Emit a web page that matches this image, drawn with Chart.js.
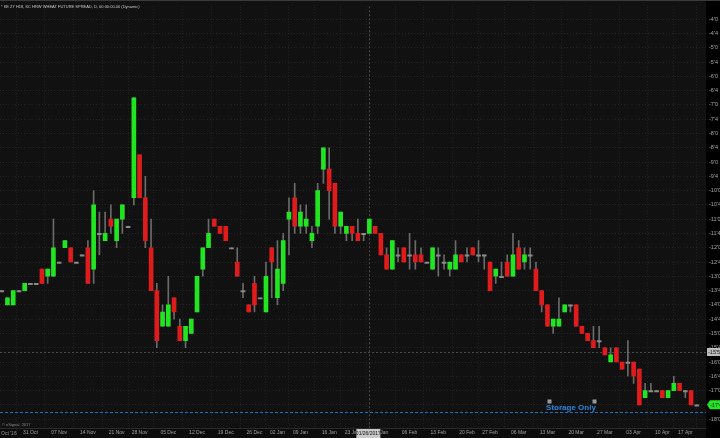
<!DOCTYPE html>
<html><head><meta charset="utf-8">
<script src="https://cdn.jsdelivr.net/npm/chart.js@4/dist/chart.umd.min.js"></script>
<style>html,body{margin:0;padding:0;background:#111;overflow:hidden}canvas{display:block}</style>
</head><body>
<canvas id="c" width="720" height="438"></canvas>
<script>
const title = "* KE Z7 H18, KC HRW WHEAT FUTURE SPREAD, D, 00:00:00.00 (Dynamic)";
const dates = ["24 Oct","25 Oct","26 Oct","27 Oct","28 Oct","31 Oct","01 Nov","02 Nov","03 Nov","04 Nov","07 Nov","08 Nov","09 Nov","10 Nov","11 Nov","14 Nov","15 Nov","16 Nov","17 Nov","18 Nov","21 Nov","22 Nov","23 Nov","25 Nov","28 Nov","29 Nov","30 Nov","01 Dec","02 Dec","05 Dec","06 Dec","07 Dec","08 Dec","09 Dec","12 Dec","13 Dec","14 Dec","15 Dec","16 Dec","19 Dec","20 Dec","21 Dec","22 Dec","23 Dec","27 Dec","28 Dec","29 Dec","30 Dec","03 Jan","04 Jan","05 Jan","06 Jan","09 Jan","10 Jan","11 Jan","12 Jan","13 Jan","17 Jan","18 Jan","19 Jan","20 Jan","23 Jan","24 Jan","25 Jan","26 Jan","27 Jan","30 Jan","31 Jan","01 Feb","02 Feb","03 Feb","06 Feb","07 Feb","08 Feb","09 Feb","10 Feb","13 Feb","14 Feb","15 Feb","16 Feb","17 Feb","21 Feb","22 Feb","23 Feb","24 Feb","27 Feb","28 Feb","01 Mar","02 Mar","03 Mar","06 Mar","07 Mar","08 Mar","09 Mar","10 Mar","13 Mar","14 Mar","15 Mar","16 Mar","17 Mar","20 Mar","21 Mar","22 Mar","23 Mar","24 Mar","27 Mar","28 Mar","29 Mar","30 Mar","31 Mar","03 Apr","04 Apr","05 Apr","06 Apr","07 Apr","10 Apr","11 Apr","12 Apr","13 Apr","17 Apr","18 Apr","19 Apr"];
const opens = [-13.5,-14,-14,-13.5,-13.5,-13.25,-13.25,-12.75,-13,-13,-12.5,-12,-12,-12.5,-12.25,-12,-12.75,-11.5,-11.75,-11,-11.75,-11,-11.25,-10.25,-8.75,-10.25,-12,-13.5,-14.75,-14.75,-13.75,-14.75,-15.25,-15,-14.25,-12.75,-12,-11,-11.25,-11.25,-12,-12.5,-13.5,-14,-13.25,-13.75,-14.25,-12,-13.75,-13.25,-11,-10.25,-11.25,-11.25,-11.75,-11.25,-9.25,-9.25,-9.75,-11.25,-11.5,-11.25,-11.5,-11.5,-11.5,-11.25,-11.5,-12.25,-12.75,-12.25,-12,-12.25,-12.25,-12.25,-12.5,-12.75,-12.25,-12.5,-12.75,-12.75,-12.25,-12.25,-12,-12.25,-12.25,-12.5,-13,-13,-12.5,-13,-12,-12.5,-12.25,-12.75,-13.5,-14,-14.75,-14.75,-14.25,-14,-14,-14.75,-15,-15.25,-15.25,-15.5,-16,-15.5,-16,-16,-16,-16.25,-17.25,-17,-17,-17,-17.25,-17,-16.75,-17,-17,-17.5];
const highs = [-13.5,-13.75,-13.5,-13.5,-13.25,-13.25,-13.25,-12.75,-12.75,-11,-12.5,-11.75,-12,-12.5,-12.25,-11.75,-10,-10.75,-10.75,-10.5,-11,-10.5,-11.25,-6.75,-8.75,-9.5,-11,-13.25,-14,-13,-13.75,-14.5,-14.75,-14.5,-13,-12,-11,-11,-11.25,-11.25,-12,-12,-13.25,-14,-13,-13.75,-12.5,-12,-11.75,-11.5,-10.25,-9.75,-10.5,-10.5,-11.25,-9.75,-8.5,-8.5,-9.75,-10.75,-11.25,-11.25,-11,-11.5,-11,-11.25,-11.5,-12,-11.75,-12,-12,-11.5,-11.75,-12,-12.5,-12,-12,-12.25,-12.5,-11.75,-12.25,-12,-12,-11.75,-12.25,-12.5,-12.75,-12.5,-12.25,-11.5,-11.75,-12,-12,-12.5,-13.5,-14,-14.5,-13.75,-14,-14,-14,-14.75,-15,-14.75,-14.75,-15.5,-15.5,-15.5,-16,-15.25,-16,-16.25,-16.75,-16.75,-17,-17,-17,-16.5,-16.75,-17,-17,-17.5];
const lows = [-13.5,-14,-14,-13.5,-13.5,-13.25,-13.25,-13.25,-13.25,-13,-12.5,-12,-12.5,-12.5,-12.25,-13.25,-13.25,-12.25,-11.75,-11.5,-12,-11.5,-11.25,-10.5,-10.25,-12,-13.5,-15.5,-14.75,-14.75,-14.5,-15.25,-15.5,-15,-14.25,-13,-12,-11.25,-11.5,-11.75,-12,-13,-13.75,-14.25,-14.25,-13.75,-14.25,-13.75,-14,-13.5,-12.25,-11.5,-11.5,-11.5,-12,-11.5,-9.75,-11,-11.5,-11.5,-11.75,-11.75,-11.75,-11.75,-11.5,-11.5,-12.25,-12.75,-12.75,-12.5,-12.5,-12.75,-12.75,-12.5,-12.5,-12.75,-13,-12.75,-13,-12.75,-12.5,-12.5,-12.25,-12.5,-12.75,-13.5,-13.25,-13,-13,-13,-12.75,-12.75,-12.75,-13.5,-14.25,-14.75,-15,-14.75,-14.25,-14.25,-14.75,-15,-15.25,-15.5,-15.5,-15.75,-16,-16,-16.25,-16.5,-16.75,-17.5,-17.25,-17,-17,-17.25,-17.25,-17,-17,-17.25,-17.5,-17.5];
const closes = [-13.5,-13.75,-13.5,-13.5,-13.25,-13.25,-13.25,-13.25,-12.75,-12,-12.5,-11.75,-12.5,-12.5,-12.25,-13.25,-10.5,-11.5,-11.5,-11.25,-11,-10.5,-11.25,-6.75,-10.25,-11.75,-13.5,-15.25,-14.25,-14,-14.25,-15.25,-14.75,-14.5,-13,-12,-11.5,-11.25,-11.5,-11.75,-12,-13,-13.5,-14.25,-14,-13.75,-13,-12.5,-12.75,-11.75,-10.75,-11.25,-10.75,-11,-11.5,-10,-8.5,-10,-11.25,-10.75,-11.25,-11.5,-11.75,-11.5,-11,-11.5,-12.25,-12.75,-11.75,-12.25,-12.5,-12.25,-12.5,-12.5,-12.5,-12,-12.25,-12.5,-12.5,-12.25,-12.5,-12.25,-12.25,-12.25,-12.25,-13.5,-12.75,-13,-13,-12.25,-12.75,-12.25,-12.25,-13.5,-14,-14.75,-14.5,-14.5,-14,-14,-14.75,-15,-15.25,-15.5,-15.25,-15.75,-15.75,-16,-16.25,-16,-16.5,-17.5,-17,-17,-17,-17.25,-17,-16.75,-17,-17,-17.5,-17.5];
const tickDates = ["31 Oct","07 Nov","14 Nov","21 Nov","28 Nov","05 Dec","12 Dec","19 Dec","27 Dec","03 Jan","09 Jan","17 Jan","23 Jan","30 Jan","06 Feb","13 Feb","21 Feb","27 Feb","06 Mar","13 Mar","20 Mar","27 Mar","03 Apr","10 Apr","17 Apr"];
const tickLabels = ["31 Oct","07 Nov","14 Nov","21 Nov","28 Nov","05 Dec","12 Dec","19 Dec","26 Dec","02 Jan","09 Jan","16 Jan","23 Jan","30 Jan","06 Feb","13 Feb","20 Feb","27 Feb","06 Mar","13 Mar","20 Mar","27 Mar","03 Apr","10 Apr","17 Apr"];
const storageLevel = -17.75;
const storageLabel = "Storage Only";
const crossDate = "26 Jan";
const crossDateLabel = "01/26/2017";
const crossValue = -15.65;
const copyright = "\u00a9 eSignal, 2017";

function fmt(v){
  const neg = v < 0; const a = Math.abs(v);
  let w = Math.floor(a + 1e-9); let f = Math.round((a - w) * 8);
  if (f === 8) { w++; f = 0; }
  return (neg ? '-' : '') + w + "'" + f;
}
const GREEN = '#22e522', RED = '#e01b1b', DOJI = '#8a8a8a', WICK = '#6a6a6a';
const bodyData = dates.map((d,i)=>({x:i, y:[opens[i], closes[i]]}));
const wickData = dates.map((d,i)=>({x:i, y:[lows[i], highs[i]]}));
const bodyColors = dates.map((d,i)=> closes[i] > opens[i] ? GREEN : (closes[i] < opens[i] ? RED : DOJI));
const tickIdx = tickDates.map(d=>dates.indexOf(d));

const deco = {
  id:'deco',
  beforeDraw(chart){
    const {ctx, chartArea:a} = chart;
    ctx.save();
    ctx.fillStyle = '#111111'; ctx.fillRect(0,0,720,438);
    ctx.fillStyle = '#000000'; ctx.fillRect(a.right,0,720-a.right,438);
    ctx.fillStyle = '#0c0c0c'; ctx.fillRect(0,a.bottom,a.right,438-a.bottom);
    ctx.restore();
  },
  beforeDatasetsDraw(chart){
    const {ctx, chartArea:a, scales:{x,y}} = chart;
    ctx.save();
    ctx.strokeStyle = '#4a4a4a'; ctx.lineWidth = 1; ctx.setLineDash([2,2]);
    const cx = Math.round(x.getPixelForValue(dates.indexOf(crossDate))) + 0.5;
    ctx.beginPath(); ctx.moveTo(cx, a.top); ctx.lineTo(cx, a.bottom); ctx.stroke();
    const cy = Math.round(y.getPixelForValue(crossValue)) + 0.5;
    ctx.beginPath(); ctx.moveTo(a.left, cy); ctx.lineTo(a.right, cy); ctx.stroke();
    ctx.restore();
  },
  afterDatasetsDraw(chart){
    const {ctx, chartArea:a, scales:{x,y}} = chart;
    ctx.save();
    const by = Math.round(y.getPixelForValue(storageLevel)) + 0.5;
    ctx.strokeStyle = '#1f6fc4'; ctx.lineWidth = 1; ctx.setLineDash([3,2]);
    ctx.beginPath(); ctx.moveTo(a.left, by); ctx.lineTo(a.right, by); ctx.stroke();
    ctx.setLineDash([]);
    const tx = x.getPixelForValue(99.1);
    ctx.font = 'bold 8px "Liberation Sans", Arial, sans-serif';
    ctx.fillStyle = '#2a86dc'; ctx.textAlign = 'center'; ctx.textBaseline = 'middle';
    ctx.fillText(storageLabel, tx, by - 5);
    ctx.fillStyle = '#9a9a9a';
    ctx.fillRect(Math.round(x.getPixelForValue(95.3)) - 1.5, by - 13, 4, 4);
    ctx.fillRect(Math.round(x.getPixelForValue(103.1)) - 1.5, by - 13, 4, 4);
    ctx.restore();
  },
  afterDraw(chart){
    const {ctx, chartArea:a, scales:{x,y}} = chart;
    ctx.save();
    ctx.fillStyle = '#3a3a3a'; ctx.fillRect(0,0,720,1);
    ctx.fillStyle = '#2a2a2a'; ctx.fillRect(0,a.bottom,a.right,1);
    ctx.font = '4px "Liberation Sans", Arial, sans-serif';
    ctx.fillStyle = '#c8c8c8'; ctx.textAlign = 'left'; ctx.textBaseline = 'middle';
    ctx.fillText(title, 1, 6.5);
    ctx.fillStyle = '#8a8a8a';
    ctx.fillText(copyright, 2, a.bottom - 3);
    ctx.font = '5px "Liberation Sans", Arial, sans-serif';
    ctx.fillStyle = '#9a9a9a';
    ctx.fillText("Oct '16", 1, a.bottom + 5.5);
    const cx = x.getPixelForValue(dates.indexOf(crossDate));
    ctx.fillStyle = '#c9c9c9'; ctx.fillRect(cx - 13, a.bottom + 1, 24, 9);
    ctx.fillStyle = '#111'; ctx.textAlign = 'center';
    ctx.fillText(crossDateLabel, cx - 1, a.bottom + 5.5);
    const cy = y.getPixelForValue(crossValue);
    ctx.fillStyle = '#bdbdbd'; ctx.fillRect(a.right + 1, cy - 4, 14, 8);
    ctx.fillStyle = '#111'; ctx.textAlign = 'left';
    ctx.font = '5.5px "Liberation Sans", Arial, sans-serif';
    ctx.fillText(fmt(crossValue), a.right + 2, cy + 0.5);
    const last = closes[closes.length - 1];
    const ly = y.getPixelForValue(last);
    ctx.fillStyle = GREEN;
    ctx.beginPath(); ctx.moveTo(a.right + 1, ly); ctx.lineTo(a.right + 4, ly - 4.5); ctx.lineTo(720, ly - 4.5); ctx.lineTo(720, ly + 4.5); ctx.lineTo(a.right + 4, ly + 4.5); ctx.closePath(); ctx.fill();
    ctx.fillStyle = '#0a0a0a';
    ctx.fillText(fmt(last), a.right + 4, ly + 0.5);
    ctx.restore();
  }
};

new Chart(document.getElementById('c'), {
  type: 'bar',
  data: {
    datasets: [
      { label:'Body', data: bodyData, backgroundColor: bodyColors, borderWidth: 0, barThickness: 4, minBarLength: 1.3, grouped: false, order: 0 },
      { label:'Wick', data: wickData, backgroundColor: WICK, borderWidth: 0, barThickness: 1, grouped: false, order: 1 }
    ]
  },
  options: {
    responsive: false, animation: false, devicePixelRatio: 1,
    layout: { padding: { top: 2, left: 0, right: 0, bottom: 0 } },
    plugins: { legend: { display: false }, tooltip: { enabled: false }, title: { display: false } },
    scales: {
      x: {
        type: 'linear', offset: false, min: -0.3, max: 122.6,
        afterBuildTicks(s){ s.ticks = tickIdx.map(v=>({value:v})); },
        afterFit(s){ s.height = 10; },
        grid: { color: '#222222', drawTicks: false, tickLength: 0 },
        border: { display: false, dash: [1,2] },
        ticks: { autoSkip: false, maxRotation: 0, padding: 2, color: '#a0a0a0',
          font: { size: 5, family: '"Liberation Sans", Arial, sans-serif' },
          callback(v){ const k = tickIdx.indexOf(v); return k >= 0 ? tickLabels[k] : ''; } }
      },
      y: {
        position: 'right', min: -18.31, max: -3.55,
        afterBuildTicks(s){ const t=[]; for (let v=-18; v<=-4+1e-9; v+=0.5) t.push({value:v}); s.ticks=t; },
        afterFit(s){ s.width = 14; },
        grid: { color: '#222222', drawTicks: false, tickLength: 0 },
        border: { display: false, dash: [1,2] },
        ticks: { padding: 3, color: '#a8a8a8', crossAlign: 'near',
          font: { size: 5.5, family: '"Liberation Sans", Arial, sans-serif' },
          callback(v){ return fmt(v); } }
      }
    }
  },
  plugins: [deco]
});
</script>
</body></html>
